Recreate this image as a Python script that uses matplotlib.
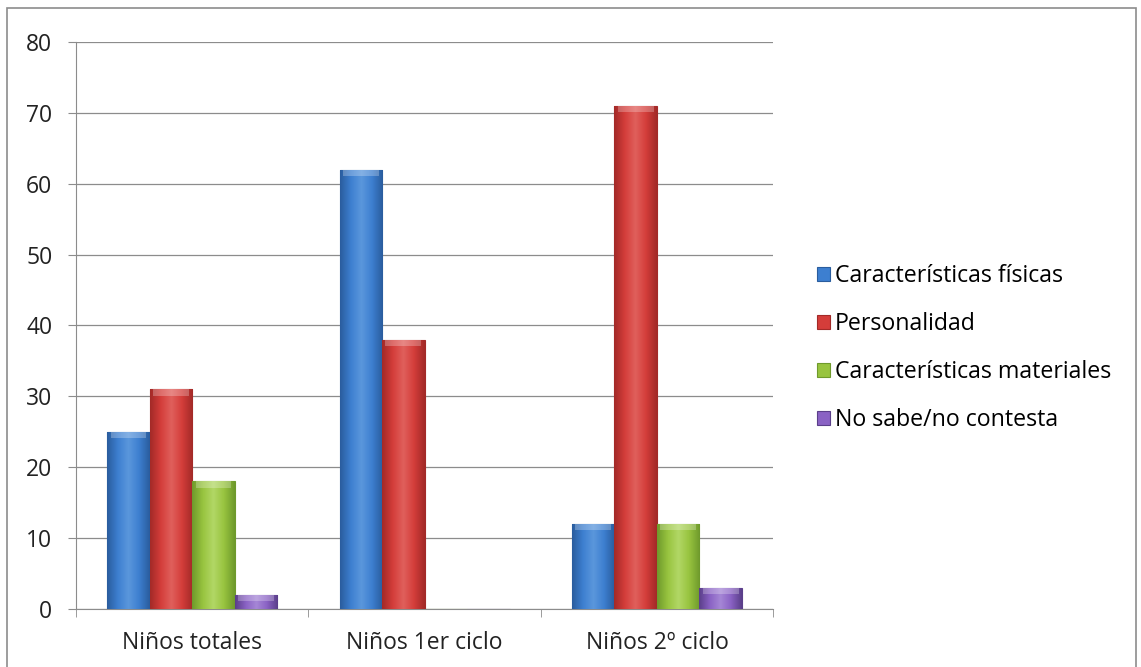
import matplotlib.pyplot as plt
import numpy as np
from matplotlib.patches import Rectangle
from matplotlib.colors import LinearSegmentedColormap

# -----------------------
# DATA
# -----------------------

groups = ["Niños totales", "Niños 1er ciclo", "Niños 2º ciclo"]
series = ["Características físicas", "Personalidad",
          "Características materiales", "No sabe/no contesta"]

fisicas = [25, 62, 12]
personalidad = [31, 38, 71]
materiales = [18, 0, 12]
nsnc = [2, 0, 3]

values = [fisicas, personalidad, materiales, nsnc]
yticks = [0, 10, 20, 30, 40, 50, 60, 70, 80]

# (dark edge, mid, light)
shades = [
    ("#2a5d9e", "#3d7fd0", "#5b97dc"),
    ("#a32a28", "#d43d3a", "#e0605c"),
    ("#6f9a2c", "#98c43f", "#b2d766"),
    ("#5b3f8a", "#8a62c4", "#a687d6"),
]

plt.rcParams['font.family'] = ['Open Sans', 'DejaVu Sans']

# -----------------------
# FIGURE
# -----------------------

fig = plt.figure(figsize=(11.41, 6.67), dpi=100)
fig.patches.append(Rectangle((0.006, -0.01), 0.99, 0.998, transform=fig.transFigure,
                             fill=False, edgecolor="#8c8c8c", linewidth=1.2))

ax = fig.add_axes([0.0666, 0.087, 0.611, 0.85])

n = len(series)
w = 0.183
x = np.arange(len(groups))

ax.set_xlim(-0.5, len(groups) - 0.5)
ax.set_ylim(0, 80)

for j, (vals, (dark, mid, light)) in enumerate(zip(values, shades)):
    cmap = LinearSegmentedColormap.from_list("b%d" % j, [dark, mid, light, mid, dark])
    bars = ax.bar(x + (j - (n - 1) / 2) * w, vals, width=w, color=mid,
                  edgecolor=dark, linewidth=0.8, label=series[j], zorder=3)
    for b in bars:
        h = b.get_height()
        if h <= 0:
            continue
        x0, bw = b.get_x(), b.get_width()
        grad = np.linspace(0, 1, 64).reshape(1, -1)
        im = ax.imshow(grad, cmap=cmap, extent=(x0, x0 + bw, 0, h),
                       aspect="auto", zorder=3.5, interpolation="bilinear")
        im.set_clip_path(b)
        # light bevel on the top
        ax.add_patch(Rectangle((x0 + bw * 0.08, h - 0.9), bw * 0.84, 0.9,
                               facecolor="white", alpha=0.25, edgecolor="none",
                               zorder=4))

ax.set_aspect("auto")
ax.set_yticks(yticks)
ax.yaxis.grid(True, color="#8c8c8c", linewidth=0.9, zorder=0)
ax.set_axisbelow(True)

ax.set_xticks(x)
ax.set_xticklabels(groups)
ax.set_xticks(np.arange(len(groups) + 1) - 0.5, minor=True)
ax.tick_params(axis="x", which="major", length=0, pad=16, labelsize=16.5, colors="#222222")
ax.tick_params(axis="x", which="minor", length=6, color="#8c8c8c")
ax.tick_params(axis="y", length=6, color="#8c8c8c", pad=11, labelsize=16.5, colors="#222222")

for side in ["top", "right"]:
    ax.spines[side].set_visible(False)
for side in ["left", "bottom"]:
    ax.spines[side].set_color("#8c8c8c")

# -----------------------
# LEGEND
# -----------------------

leg = ax.legend(loc="center left", bbox_to_anchor=(1.063, 0.46), frameon=False,
                prop={"size": 16.7}, handlelength=0.57, handleheight=0.57,
                handletextpad=0.21, labelspacing=1.03, borderaxespad=0, borderpad=0)

plt.savefig("out.png", dpi=100)
